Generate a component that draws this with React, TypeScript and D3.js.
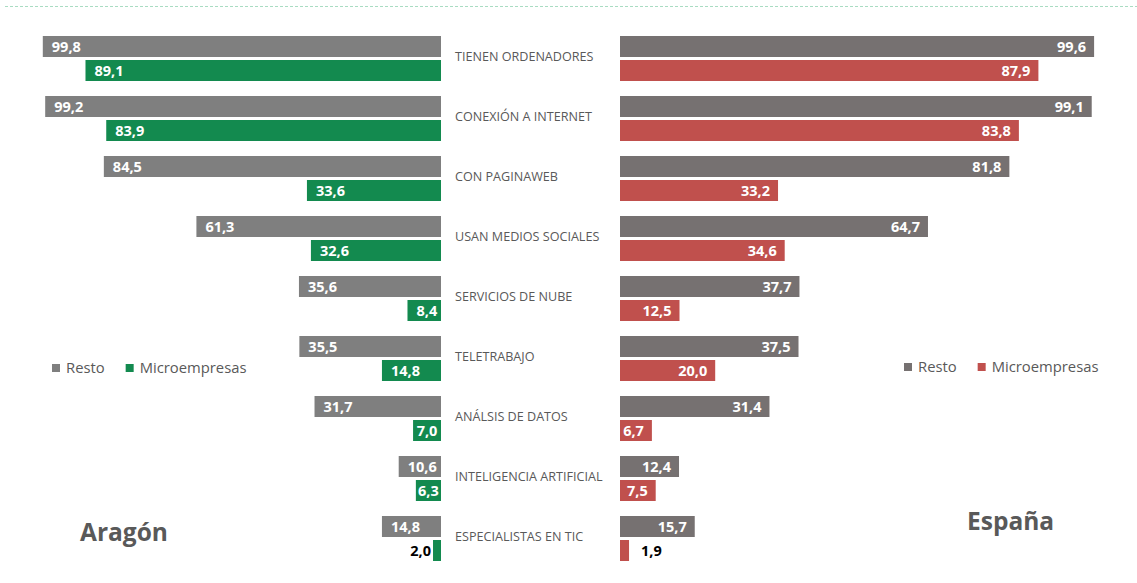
import React from "react";
import * as d3 from "d3";

const categories = [
  "TIENEN ORDENADORES",
  "CONEXIÓN A INTERNET",
  "CON PAGINAWEB",
  "USAN MEDIOS SOCIALES",
  "SERVICIOS DE NUBE",
  "TELETRABAJO",
  "ANÁLSIS DE DATOS",
  "INTELIGENCIA ARTIFICIAL",
  "ESPECIALISTAS EN TIC",
];
const aragonResto = [99.8, 99.2, 84.5, 61.3, 35.6, 35.5, 31.7, 10.6, 14.8];
const aragonMicro = [89.1, 83.9, 33.6, 32.6, 8.4, 14.8, 7.0, 6.3, 2.0];
const espanaResto = [99.6, 99.1, 81.8, 64.7, 37.7, 37.5, 31.4, 12.4, 15.7];
const espanaMicro = [87.9, 83.8, 33.2, 34.6, 12.5, 20.0, 6.7, 7.5, 1.9];
const seriesNames = ["Resto", "Microempresas"];
const regionNames = ["Aragón", "España"];

const W = 1137;
const H = 583;
const FONT = "'Open Sans', 'Noto Sans', sans-serif";
const VAL_FONT = `bold 14.5px 'Open Sans'`;
const GRAY_L = "#7f7f7f";
const GRAY_R = "#767171";
const GREEN = "#138a4f";
const RED = "#c0504d";
const TXT = "#595959";

let ctx: CanvasRenderingContext2D | null = null;
function tw(s: string, font: string): number {
  if (!ctx) ctx = document.createElement("canvas").getContext("2d");
  if (!ctx) return s.length * 7;
  ctx.font = font;
  return ctx.measureText(s).width;
}
const fmt = (v: number) => d3.format(".1f")(v).replace(".", ",");

export default function App() {
  const y = d3.scaleBand<string>().domain(categories).range([30, 570]).paddingInner(0).paddingOuter(0);
  const sub = d3.scaleBand<string>().domain(seriesNames).range([6, 51]).paddingInner(0.125);
  const bh = sub.bandwidth();
  const xL = d3.scaleLinear().domain([0, 100]).range([441, 42]);
  const xR = d3.scaleLinear().domain([0, 100]).range([620, 1096]);

  const leftBar = (v: number, yy: number, color: string, key: string) => {
    const x0 = xL(0);
    const x1 = xL(v);
    const bw = x0 - x1;
    const label = fmt(v);
    const w = tw(label, VAL_FONT);
    let tx = x1 + 9;
    let anchor = "start";
    let fill = "#ffffff";
    if (bw < 12) {
      tx = x1 - 2;
      anchor = "end";
      fill = "#000000";
    } else if (x1 + 9 + w > x0 - 2) {
      tx = Math.min((x0 + x1) / 2, x0 - 1 - w / 2);
      anchor = "middle";
    }
    return (
      <g key={key}>
        <rect x={x1} y={yy} width={bw} height={bh} fill={color} />
        <text x={tx} y={yy + bh / 2} dy="0.36em" textAnchor={anchor} fill={fill}
          style={{ font: VAL_FONT }}>{label}</text>
      </g>
    );
  };

  const rightBar = (v: number, yy: number, color: string, key: string) => {
    const x0 = xR(0);
    const x1 = xR(v);
    const bw = x1 - x0;
    const label = fmt(v);
    const w = tw(label, VAL_FONT);
    let tx = x1 - 8;
    let anchor = "end";
    let fill = "#ffffff";
    if (bw < 12) {
      tx = x1 + 12;
      anchor = "start";
      fill = "#000000";
    } else if (x1 - 8 - w < x0 + 2) {
      tx = (x0 + x1) / 2;
      anchor = "middle";
    }
    return (
      <g key={key}>
        <rect x={x0} y={yy} width={bw} height={bh} fill={color} />
        <text x={tx} y={yy + bh / 2} dy="0.36em" textAnchor={anchor} fill={fill}
          style={{ font: VAL_FONT }}>{label}</text>
      </g>
    );
  };

  const LEG_FONT = "14.8px 'Open Sans'";
  const legend = (x: number, yc: number, c2: string, key: string) => {
    const w1 = tw(seriesNames[0], LEG_FONT);
    const x2 = x + 14 + w1 + 21;
    return (
      <g key={key}>
        <rect x={x} y={yc - 4} width={8} height={8} fill={key === "l" ? GRAY_L : GRAY_R} />
        <text x={x + 14} y={yc} dy="0.35em" fill={TXT} style={{ font: LEG_FONT }}>{seriesNames[0]}</text>
        <rect x={x2} y={yc - 4} width={8} height={8} fill={c2} />
        <text x={x2 + 14} y={yc} dy="0.35em" fill={TXT} style={{ font: LEG_FONT }}>{seriesNames[1]}</text>
      </g>
    );
  };

  return (
    <svg width={W} height={H} style={{ position: "absolute", left: 0, top: 0, background: "#fff" }}
      fontFamily={FONT}>
      <line x1={5} x2={W} y1={6.5} y2={6.5} stroke="#a9dcc2" strokeWidth={1} strokeDasharray="3 2" />
      {categories.map((c, i) => {
        const b = y(c) as number;
        return (
          <g key={c}>
            {leftBar(aragonResto[i], b + (sub("Resto") as number), GRAY_L, "lr" + i)}
            {leftBar(aragonMicro[i], b + (sub("Microempresas") as number), GREEN, "lm" + i)}
            {rightBar(espanaResto[i], b + (sub("Resto") as number), GRAY_R, "rr" + i)}
            {rightBar(espanaMicro[i], b + (sub("Microempresas") as number), RED, "rm" + i)}
            <text x={455} y={b + 27} dy="0.35em" fill={TXT} style={{ font: "12.6px 'Open Sans'" }}>{c}</text>
          </g>
        );
      })}
      {legend(52, 368, GREEN, "l")}
      {legend(904, 367, RED, "r")}
      <text x={80} y={541} fill={TXT} style={{ font: "bold 24.5px 'Open Sans'" }}>{regionNames[0]}</text>
      <text x={967} y={530} fill={TXT} style={{ font: "bold 24.5px 'Open Sans'" }}>{regionNames[1]}</text>
    </svg>
  );
}
